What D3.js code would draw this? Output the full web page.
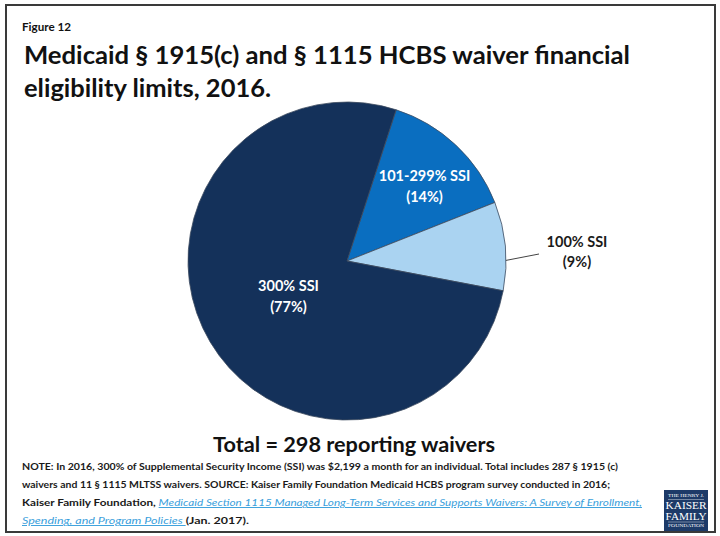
<!DOCTYPE html>
<html>
<head>
<meta charset="utf-8">
<script src="https://cdn.jsdelivr.net/npm/d3@7/dist/d3.min.js"></script>
<style>
  html, body { margin: 0; padding: 0; background: #fff; }
  svg { display: block; }
</style>
</head>
<body>
<svg id="chart" width="720" height="536"></svg>
<script>
// Waiver financial eligibility limits (share of 298 reporting waivers, %)
const categories = ["101-299% SSI", "100% SSI", "300% SSI"];
const shares = [14, 9, 77];
const sliceColors = ["#0a6ec0", "#aad3f1", "#14315a"];

const figureLabel = "Figure 12";
const titleLines = [
  "Medicaid § 1915(c) and § 1115 HCBS waiver financial",
  "eligibility limits, 2016."
];
const totalLabel = "Total = 298 reporting waivers";

const svg = d3.select("#chart");
const FONT = "Lato, 'Open Sans', sans-serif";

// squeeze a text element horizontally to a given width
function fitWidth(sel, w) {
  sel.attr("textLength", w).attr("lengthAdjust", "spacingAndGlyphs");
}

// outer frame
svg.append("rect")
  .attr("x", 6).attr("y", 5).attr("width", 709).attr("height", 527)
  .attr("fill", "#fff").attr("stroke", "#3a3a3a").attr("stroke-width", 2);

// headings
svg.append("text")
  .attr("x", 22).attr("y", 30.5)
  .attr("font-family", FONT).attr("font-size", 10.5).attr("font-weight", 700)
  .attr("fill", "#111")
  .text(figureLabel)
  .call(fitWidth, 49);

const titleWidths = [606, 247];
titleLines.forEach((line, i) => {
  svg.append("text")
    .attr("x", 24).attr("y", 64 + i * 33)
    .attr("font-family", FONT).attr("font-size", 25.5).attr("font-weight", 700)
    .attr("fill", "#111")
    .text(line)
    .call(fitWidth, titleWidths[i]);
});

// pie
const cx = 347, cy = 261, R = 159;
const startDeg = 18;
const pie = d3.pie().sort(null).value(d => d)
  .startAngle(startDeg * Math.PI / 180)
  .endAngle((startDeg + 360) * Math.PI / 180);
const arcs = pie(shares);
const arc = d3.arc().innerRadius(0).outerRadius(R);

const g = svg.append("g").attr("transform", `translate(${cx},${cy})`);
g.selectAll("path.slice")
  .data(arcs)
  .join("path")
  .attr("class", "slice")
  .attr("d", arc)
  .attr("fill", (d, i) => sliceColors[i])
  .attr("stroke", "#3d4b5f")
  .attr("stroke-width", 0.8);

// inside labels for the two larger slices
const insideRadius = { 0: 103, 2: 68 };
const insideShift = { 0: [7, 0], 2: [0, 0] };
[0, 2].forEach(i => {
  const a = arcs[i];
  const lab = d3.arc().innerRadius(insideRadius[i]).outerRadius(insideRadius[i]);
  const [x, y] = lab.centroid(a);
  const t = g.append("text")
    .attr("text-anchor", "middle")
    .attr("font-family", FONT).attr("font-size", 14.5).attr("font-weight", 700)
    .attr("fill", "#fff");
  t.append("tspan").attr("x", x + insideShift[i][0]).attr("y", y - 5).text(categories[i]);
  t.append("tspan").attr("x", x + insideShift[i][0]).attr("y", y + 16).text(`(${shares[i]}%)`);
});

// outside label with leader for the smallest slice
{
  const a = arcs[1];
  const ang = a.startAngle + 0.66 * (a.endAngle - a.startAngle);
  const px = R * Math.sin(ang), py = -R * Math.cos(ang);
  const lx = 539 - cx, ly = 254 - cy;
  g.append("line")
    .attr("x1", px).attr("y1", py).attr("x2", lx).attr("y2", ly)
    .attr("stroke", "#444").attr("stroke-width", 1);
  const t = g.append("text")
    .attr("text-anchor", "middle")
    .attr("font-family", FONT).attr("font-size", 14.5).attr("font-weight", 700)
    .attr("fill", "#1a1a1a");
  t.append("tspan").attr("x", 577 - cx).attr("y", 246.5 - cy).text(categories[1]);
  t.append("tspan").attr("x", 577 - cx).attr("y", 267 - cy).text(`(${shares[1]}%)`);
}

// total
svg.append("text")
  .attr("x", 354).attr("y", 452)
  .attr("text-anchor", "middle")
  .attr("font-family", FONT).attr("font-size", 21).attr("font-weight", 700)
  .attr("fill", "#111")
  .text(totalLabel)
  .call(fitWidth, 282);

// notes and source
const noteLines = [
  [["NOTE: In 2016, 300% of Supplemental Security Income (SSI) was $2,199 a month for an individual.  Total includes 287 § 1915 (c)", "n"]],
  [["waivers and 11 § 1115 MLTSS waivers.  SOURCE: Kaiser Family Foundation Medicaid HCBS program survey conducted in 2016;", "n"]],
  [["Kaiser Family Foundation, ", "n"], ["Medicaid Section 1115 Managed Long-Term Services and Supports Waivers: A Survey of Enrollment,", "l"]],
  [["Spending, and Program Policies ", "l"], ["(Jan. 2017).", "n"]]
];
const noteWidths = [596, 588, 620, 227];
const noteY = [470, 488, 506, 524];
noteLines.forEach((parts, i) => {
  const t = svg.append("text")
    .attr("x", 22).attr("y", noteY[i])
    .attr("font-family", FONT).attr("font-size", 9.6).attr("font-weight", 700)
    .attr("fill", "#1a1a1a")
    .call(fitWidth, noteWidths[i]);
  parts.forEach(([str, kind]) => {
    const s = t.append("tspan").text(str);
    if (kind === "l") {
      s.attr("fill", "#3aa0dc").attr("font-style", "italic").attr("font-weight", 400)
        .attr("text-decoration", "underline");
    }
  });
});

// foundation logo
const logo = svg.append("g").attr("transform", "translate(664,490)");
logo.append("rect").attr("width", 44).attr("height", 41).attr("fill", "#1d3a68");
const logoText = [
  ["THE HENRY J.", 7, 3.6],
  ["KAISER", 19, 11],
  ["FAMILY", 29.5, 11],
  ["FOUNDATION", 37, 3.6]
];
logoText.forEach(([s, y, fs]) => {
  logo.append("text")
    .attr("x", 22).attr("y", y).attr("text-anchor", "middle")
    .attr("font-family", "'Liberation Serif', 'DejaVu Serif', serif")
    .attr("font-size", fs).attr("fill", "#fff")
    .text(s)
    .call(fitWidth, fs > 5 ? 41 : 36);
});
logo.append("line").attr("x1", 4).attr("x2", 40).attr("y1", 9.5).attr("y2", 9.5)
  .attr("stroke", "#fff").attr("stroke-width", 0.4);
logo.append("line").attr("x1", 4).attr("x2", 40).attr("y1", 32).attr("y2", 32)
  .attr("stroke", "#fff").attr("stroke-width", 0.4);
</script>
</body>
</html>
